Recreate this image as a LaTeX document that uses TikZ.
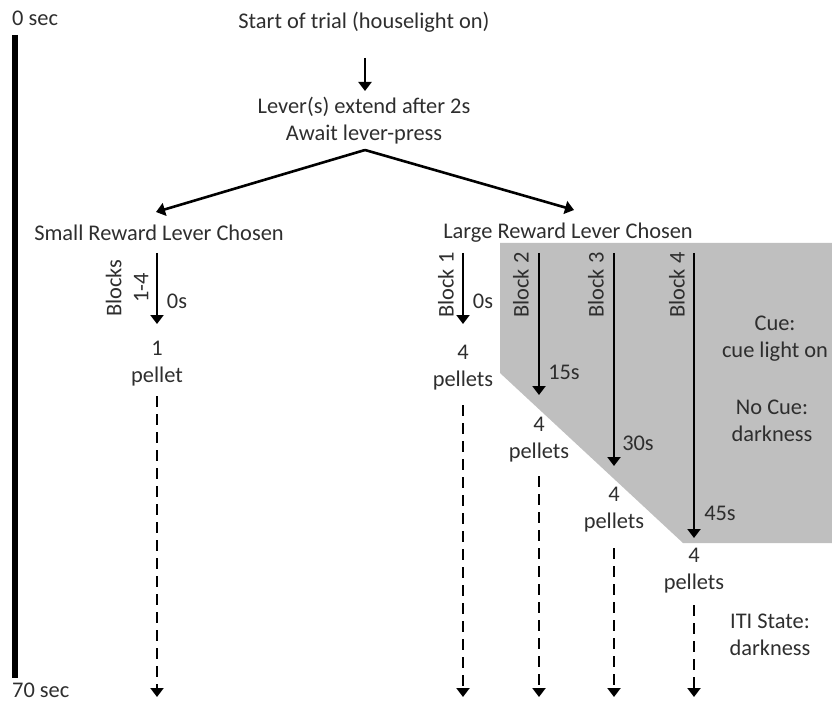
\documentclass[tikz,border=0pt]{standalone}
\usepackage{fontspec}
\setmainfont{Carlito}
\usetikzlibrary{arrows.meta}
\begin{document}
\begin{tikzpicture}[x=1pt,y=-1pt,
  every node/.style={font=\fontsize{22.4}{27}\selectfont, inner sep=0pt, align=center, text=black!82},
  solidarrow/.style={line width=2.6pt, -{Triangle[width=13pt,length=9pt]}},
  dasharrow/.style={line width=2.8pt, dash pattern=on 11pt off 7pt, -{Triangle[width=13pt,length=9pt]}},
  rot/.style={rotate=90}]
\useasboundingbox (0,0) rectangle (832,703);
% gray region
\fill[black!25] (500,243) -- (832,243) -- (832,543) -- (683,543) -- (500,373) -- cycle;
% time bar
\node[anchor=west] (t0) at (12,18) {0 sec};
\node[anchor=west] (t70) at (12,690) {70 sec};
\coordinate (bt) at (15,35);
\coordinate (bb) at (15,678);
\draw[line width=6.5pt] (bt) -- (bb);
% top
\node (start) at (364,22) {Start of trial (houselight on)};
\node (lever) at (364,121) {Lever(s) extend after 2s\\Await lever-press};
\coordinate (a1) at (365,58);
\coordinate (a2) at (365,91);
\draw[solidarrow] (a1) -- (a2);
\coordinate (peak) at (365,150);
\coordinate (ls) at (156,212);
\coordinate (ll) at (574,210);
\draw[solidarrow] (peak) -- (ls);
\draw[solidarrow] (peak) -- (ll);
\node (small) at (159,233) {Small Reward Lever Chosen};
\node (large) at (568,233) {Large Reward Lever Chosen};
% small lever
\coordinate (s0) at (157,253); \coordinate (s1) at (157,324);
\draw[solidarrow] (s0) -- (s1);
\node[rot] (sb) at (127,288) {Blocks\\1-4};
\node (s0s) at (177,301) {0s};
\node (sp) at (157,364) {1\\pellet};
\coordinate (sd0) at (157,396); \coordinate (sd1) at (157,697);
\draw[dasharrow] (sd0) -- (sd1);
% block 1
\coordinate (b1a) at (463,253); \coordinate (b1b) at (463,324);
\draw[solidarrow] (b1a) -- (b1b);
\node[rot] (b1l) at (446,285) {Block 1};
\node (b1t) at (483,301) {0s};
\node (b1p) at (463,368) {4\\pellets};
\coordinate (b1d0) at (463,405); \coordinate (b1d1) at (463,697);
\draw[dasharrow] (b1d0) -- (b1d1);
% block 2
\coordinate (b2a) at (539,253); \coordinate (b2b) at (539,395);
\draw[solidarrow] (b2a) -- (b2b);
\node[rot] (b2l) at (521,285) {Block 2};
\node (b2t) at (564,372) {15s};
\node (b2p) at (539,440) {4\\pellets};
\coordinate (b2d0) at (539,476); \coordinate (b2d1) at (539,697);
\draw[dasharrow] (b2d0) -- (b2d1);
% block 3
\coordinate (b3a) at (614,253); \coordinate (b3b) at (614,466);
\draw[solidarrow] (b3a) -- (b3b);
\node[rot] (b3l) at (596,285) {Block 3};
\node (b3t) at (638,443) {30s};
\node (b3p) at (614,510) {4\\pellets};
\coordinate (b3d0) at (614,548); \coordinate (b3d1) at (614,697);
\draw[dasharrow] (b3d0) -- (b3d1);
% block 4
\coordinate (b4a) at (694,253); \coordinate (b4b) at (694,538);
\draw[solidarrow] (b4a) -- (b4b);
\node[rot] (b4l) at (677,285) {Block 4};
\node (b4t) at (720,513) {45s};
\node (b4p) at (694,571) {4\\pellets};
\coordinate (b4d0) at (694,605); \coordinate (b4d1) at (694,697);
\draw[dasharrow] (b4d0) -- (b4d1);
% side labels
\node (cue) at (775,339) {Cue:\\cue light on};
\node (nocue) at (772,421) {No Cue:\\darkness};
\node (iti) at (770,635) {ITI State:\\darkness};
\end{tikzpicture}
\end{document}
